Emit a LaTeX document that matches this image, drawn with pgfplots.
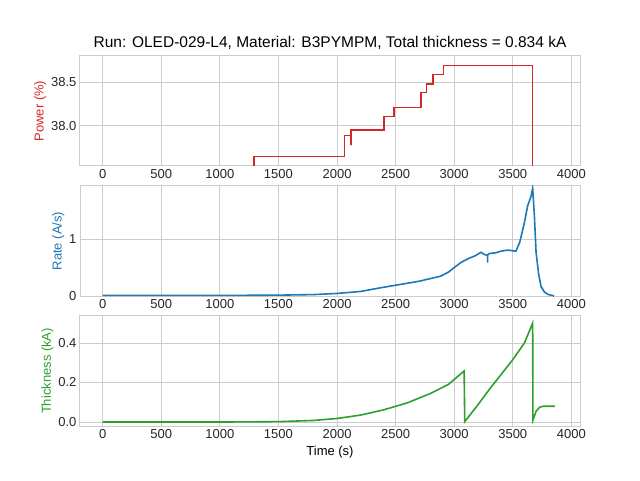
\documentclass[border=0pt]{standalone}
\usepackage{pgfplots}
\pgfplotsset{compat=1.18}
\usepackage{fontspec}
\setmainfont{Liberation Sans}
\definecolor{tred}{HTML}{D62728}
\definecolor{tblue}{HTML}{1F77B4}
\definecolor{tgreen}{HTML}{2CA02C}
\definecolor{grd}{HTML}{CCCCCC}
\pgfplotsset{base/.style={scale only axis, width=500pt, height=110pt, anchor=south west,
  xmin=-194, xmax=4074, xtick={0,500,...,4000},
  grid=major, major grid style={grd, line width=0.8pt}, axis line style={grd, line width=1pt},
  tick style={draw=none}, font=\fontsize{13}{15}\selectfont,
  /pgf/number format/assume math mode=true, scaled ticks=false,
  xticklabel style={/pgf/number format/1000 sep={}},
  tick label style={text=black!85}, ylabel shift=-2pt}}
\begin{document}
\begin{tikzpicture}
\path[use as bounding box] (0,0) rectangle (640pt,480pt);
\begin{axis}[base, at={(80pt,314pt)}, ymin=37.54, ymax=38.80, ytick={38.0,38.5},
  yticklabel style={/pgf/number format/fixed, /pgf/number format/fixed zerofill, /pgf/number format/precision=1},
  ylabel={Power (\%)}, ylabel style={text=tred},
  title={Run: OLED-029-L4, Material: B3PYMPM, Total thickness = 0.834 kA},
  title style={font=\fontsize{15.5}{18}\selectfont, yshift=-3pt}]
\addplot[tred, line width=1.6pt] coordinates {
(1293,37.40)(1293,37.647)(2063,37.647)(2063,37.89)(2118,37.89)(2118,37.78)(2118,37.95)
(2400,37.95)(2400,38.105)(2486,38.105)(2486,38.21)(2717,38.21)(2717,38.38)(2765,38.38)
(2765,38.48)(2820,38.48)(2820,38.59)(2910,38.59)(2910,38.69)(3670,38.69)(3670,37.40)};
\end{axis}
\begin{axis}[base, at={(80pt,184pt)}, ymin=0, ymax=1.94, ytick={0,1},
  ylabel={Rate (A/s)}, ylabel style={text=tblue}]
\addplot[tblue, line width=1.6pt] coordinates {
(0,0.01)(500,0.01)(1000,0.01)(1500,0.015)(1800,0.025)(2000,0.045)(2200,0.08)(2372,0.145)
(2500,0.19)(2700,0.26)(2885,0.35)(2950,0.42)(3000,0.50)(3057,0.59)(3120,0.66)(3180,0.71)
(3228,0.77)(3260,0.73)(3285,0.72)(3285,0.59)(3285,0.72)(3300,0.75)(3350,0.76)(3400,0.79)
(3456,0.81)(3527,0.79)(3560,0.95)(3600,1.30)(3627,1.59)(3655,1.75)(3670,1.90)(3685,1.40)
(3699,0.77)(3720,0.40)(3741,0.17)(3770,0.07)(3798,0.03)(3853,0.0)};
\end{axis}
\begin{axis}[base, at={(80pt,54pt)}, ymin=-0.02, ymax=0.536, ytick={0,0.2,0.4},
  yticklabel style={/pgf/number format/fixed, /pgf/number format/fixed zerofill, /pgf/number format/precision=1},
  ylabel={Thickness (kA)}, ylabel style={text=tgreen}, xlabel={Time (s)}]
\addplot[tgreen, line width=1.6pt] coordinates {
(0,0)(1000,0)(1500,0.002)(1800,0.008)(2000,0.018)(2200,0.035)(2400,0.062)(2600,0.097)
(2800,0.145)(2950,0.19)(3085,0.258)(3090,0.002)(3200,0.085)(3300,0.165)(3400,0.24)
(3500,0.315)(3600,0.40)(3670,0.50)(3672,0.01)(3700,0.055)(3730,0.075)(3760,0.08)(3860,0.08)};
\end{axis}
\end{tikzpicture}
\end{document}
